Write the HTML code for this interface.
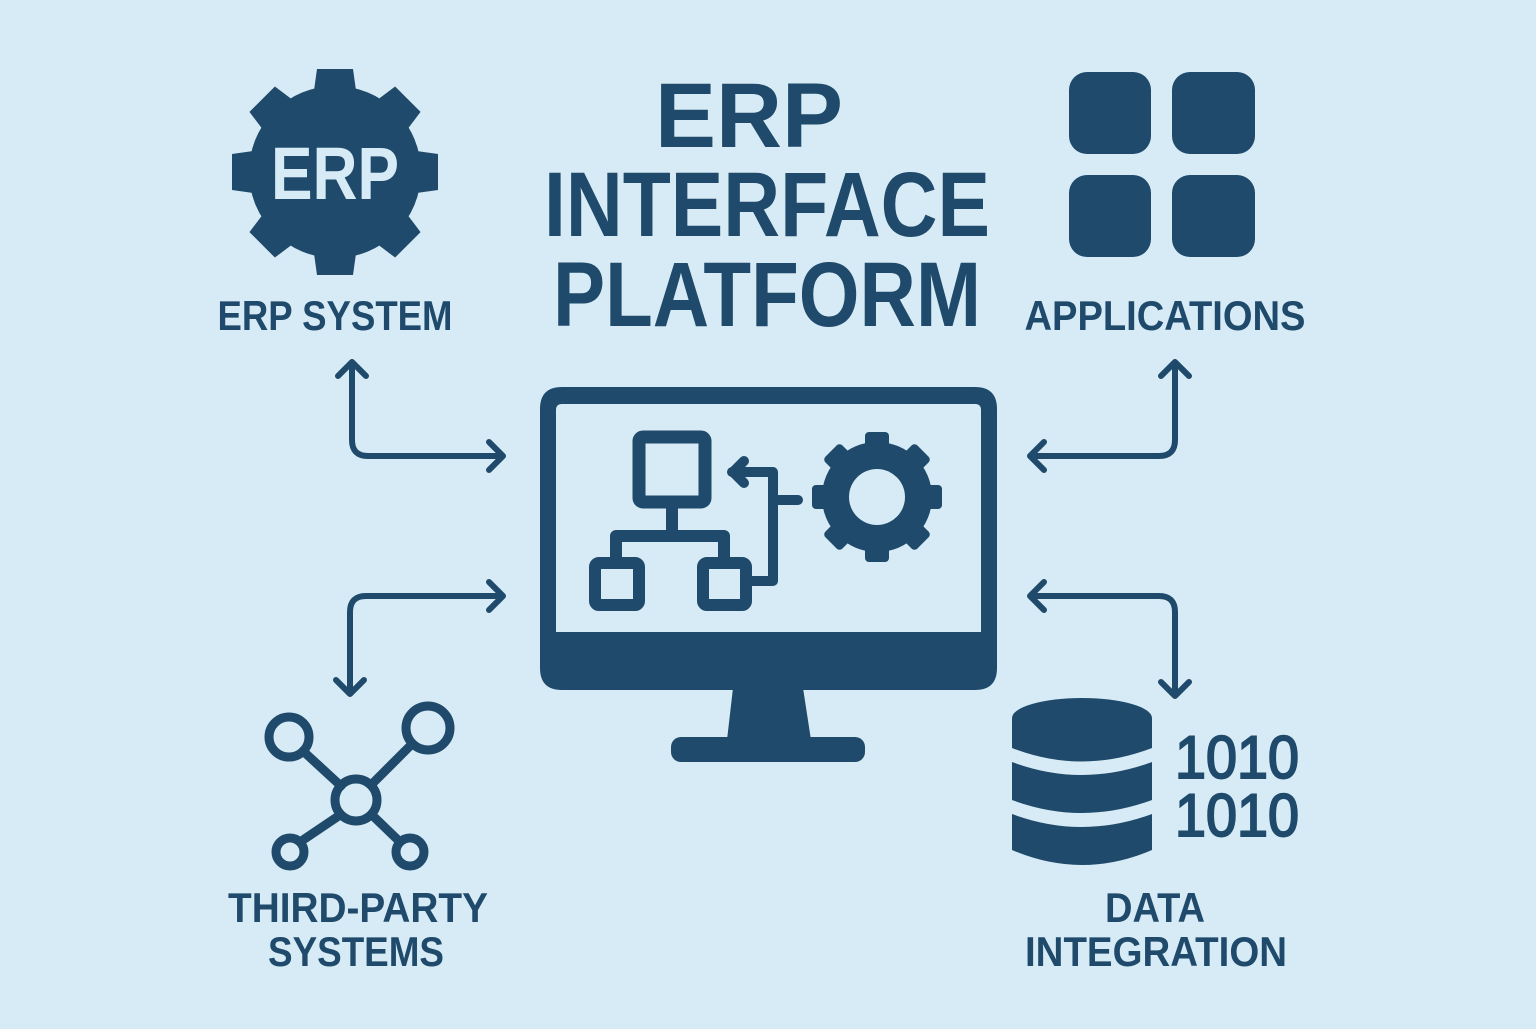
<!DOCTYPE html>
<html><head><style>html,body{margin:0;padding:0;background:#d6ebf5}</style></head><body>
<svg width="1536" height="1024" viewBox="0 0 1536 1024" xmlns="http://www.w3.org/2000/svg" font-family="Liberation Sans, sans-serif" font-weight="bold">
<rect width="1536" height="1024" fill="#d6ebf5"/>
<defs>
<g id="gear8">
<circle r="86"/>
<g><path d="M-24 -60 L-18 -103 H18 L24 -60 Z"/><path d="M-24 60 L-18 103 H18 L24 60 Z"/><path d="M-60 -24 L-103 -18 V18 L-60 24 Z"/><path d="M60 -24 L103 -18 V18 L60 24 Z"/></g>
<g transform="rotate(45)"><path d="M-24 -60 L-18 -103 H18 L24 -60 Z"/><path d="M-24 60 L-18 103 H18 L24 60 Z"/><path d="M-60 -24 L-103 -18 V18 L-60 24 Z"/><path d="M60 -24 L103 -18 V18 L60 24 Z"/></g>
</g>
</defs>
<g fill="#1f4a6b">
<use href="#gear8" transform="translate(335,172)"/>
<text x="335" y="199" font-size="74" fill="#d6ebf5" text-anchor="middle" textLength="128" lengthAdjust="spacingAndGlyphs">ERP</text>
<rect x="1069" y="72" width="82" height="82" rx="18"/><rect x="1172" y="72" width="83" height="82" rx="18"/>
<rect x="1069" y="175" width="82" height="82" rx="18"/><rect x="1172" y="175" width="83" height="82" rx="18"/>
<text x="749" y="147" font-size="92" text-anchor="middle" textLength="188" lengthAdjust="spacingAndGlyphs">ERP</text>
<text x="767" y="236" font-size="92" text-anchor="middle" textLength="446" lengthAdjust="spacingAndGlyphs">INTERFACE</text>
<text x="767" y="326" font-size="92" text-anchor="middle" textLength="428" lengthAdjust="spacingAndGlyphs">PLATFORM</text>
<text x="335" y="330" font-size="42" text-anchor="middle" textLength="235" lengthAdjust="spacingAndGlyphs">ERP SYSTEM</text>
<text x="1165" y="330" font-size="42" text-anchor="middle" textLength="281" lengthAdjust="spacingAndGlyphs">APPLICATIONS</text>
<text x="358" y="922" font-size="42" text-anchor="middle" textLength="260" lengthAdjust="spacingAndGlyphs">THIRD-PARTY</text>
<text x="356" y="966" font-size="42" text-anchor="middle" textLength="176" lengthAdjust="spacingAndGlyphs">SYSTEMS</text>
<text x="1155" y="922" font-size="42" text-anchor="middle" textLength="100" lengthAdjust="spacingAndGlyphs">DATA</text>
<text x="1156" y="966" font-size="42" text-anchor="middle" textLength="262" lengthAdjust="spacingAndGlyphs">INTEGRATION</text>
<text x="1237" y="778" font-size="60" font-weight="normal" text-anchor="middle" textLength="124" lengthAdjust="spacingAndGlyphs" stroke="#1f4a6b" stroke-width="2">1010</text>
<text x="1237" y="836" font-size="60" font-weight="normal" text-anchor="middle" textLength="124" lengthAdjust="spacingAndGlyphs" stroke="#1f4a6b" stroke-width="2">1010</text>
<path fill-rule="evenodd" d="M562 387 H975 Q997 387 997 409 V668 Q997 690 975 690 H562 Q540 690 540 668 V409 Q540 387 562 387 Z M562 404 Q556 404 556 410 V632 H981 V410 Q981 404 975 404 Z"/>
<path d="M733 688 H803 L811 740 H727 Z"/>
<rect x="671" y="737" width="194" height="25" rx="10"/>
<g transform="translate(877,497)">
<path fill-rule="evenodd" d="M0 -55 A55 55 0 1 1 0 55 A55 55 0 1 1 0 -55 Z M0 -28 A28 28 0 1 0 0 28 A28 28 0 1 0 0 -28 Z"/>
<g><rect x="-12" y="-65" width="24" height="20" rx="4"/><rect x="-12" y="45" width="24" height="20" rx="4"/><rect x="-65" y="-12" width="20" height="24" rx="4"/><rect x="45" y="-12" width="20" height="24" rx="4"/></g>
<g transform="rotate(45)"><rect x="-12" y="-65" width="24" height="20" rx="4"/><rect x="-12" y="45" width="24" height="20" rx="4"/><rect x="-65" y="-12" width="20" height="24" rx="4"/><rect x="45" y="-12" width="20" height="24" rx="4"/></g>
</g>
<ellipse cx="1082" cy="718" rx="70" ry="20"/>
<path d="M1012 718 V748 Q1082 775 1152 748 V718 Z"/>
<path d="M1012 762 Q1082 788 1152 762 V800 Q1082 826 1012 800 Z"/>
<path d="M1012 814 Q1082 840 1152 814 V850 Q1082 880 1012 850 Z"/>
</g>
<g fill="none" stroke="#1f4a6b" stroke-linecap="round" stroke-linejoin="round">
<rect x="639" y="437" width="66" height="65" rx="4" stroke-width="13"/>
<rect x="595" y="563" width="44" height="42" rx="4" stroke-width="12"/>
<rect x="703" y="563" width="43" height="42" rx="4" stroke-width="12"/>
<path d="M672 502 V536 H616 V560 M672 536 H724 V560" stroke-width="12" stroke-linecap="butt"/>
<path d="M752 581 H773 V472 H732 M744 461 L733 472 L744 483 M773 500 H798" stroke-width="10"/>
<g stroke-width="9">
<circle cx="356" cy="800" r="21"/><circle cx="289" cy="737" r="20"/><circle cx="428" cy="728" r="22"/><circle cx="290" cy="852" r="14"/><circle cx="410" cy="852" r="14"/>
<path d="M303 751 L341 786 M412 744 L371 785 M340 815 L300 842 M372 815 L400 842"/>
</g>
<g stroke-width="6">
<path d="M352 362 V440 Q352 456 368 456 H503 M338 376 L352 362 L366 376 M489 442 L503 456 L489 470"/>
<path d="M503 596 H366 Q350 596 350 612 V694 M489 582 L503 596 L489 610 M336 680 L350 694 L364 680"/>
<path d="M1030 456 H1159 Q1175 456 1175 440 V362 M1044 442 L1030 456 L1044 470 M1161 376 L1175 362 L1189 376"/>
<path d="M1030 596 H1159 Q1175 596 1175 612 V696 M1044 582 L1030 596 L1044 610 M1161 682 L1175 696 L1189 682"/>
</g>
</g>
</svg>
</body></html>
